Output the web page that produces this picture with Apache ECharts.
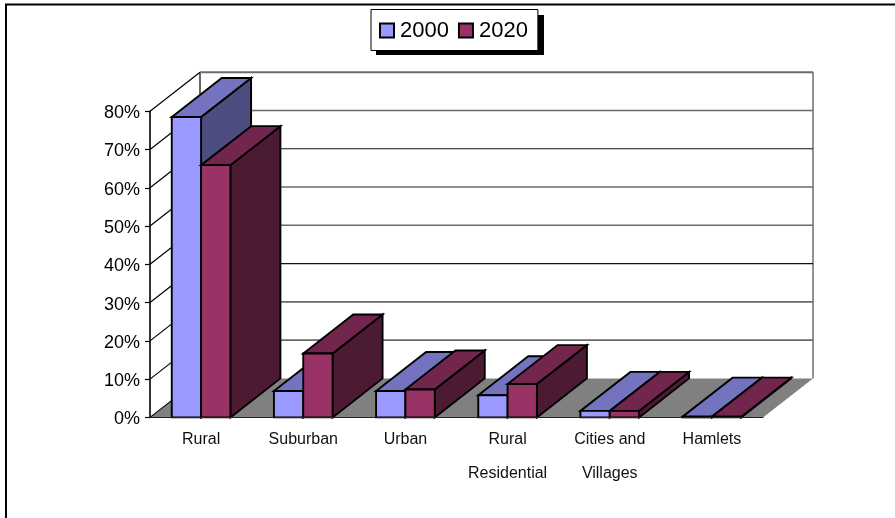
<!DOCTYPE html>
<html>
<head>
<meta charset="utf-8">
<style>html,body{margin:0;padding:0;background:#fff}#chart{width:895px;height:518px}</style>
<script src="https://cdn.jsdelivr.net/npm/echarts@6/dist/echarts.min.js"></script>
</head>
<body>
<div id="chart"></div>
<script>
// Share of land use by category, 2000 against 2020 (percent)
const categories = ['Rural', 'Suburban', 'Urban', 'Rural\nResidential', 'Cities and\nVillages', 'Hamlets'];
const values2000 = [78.5, 6.9, 6.9, 5.8, 1.7, 0.2];
const values2020 = [65.9, 16.7, 7.3, 8.7, 1.7, 0.2];
const yTicks = [0, 10, 20, 30, 40, 50, 60, 70, 80];
// Back wall rules that print solid black; the rest print a softer grey
const solidRules = [30, 60];

// Oblique projection of the depth axis, in pixels
const DEPTH_X = 50;
const DEPTH_Y = -39;
const BAR_SHARE = 0.287;
const FONT = '"Liberation Sans", Arial, sans-serif';

const back = p => [p[0] + DEPTH_X, p[1] + DEPTH_Y];
const poly = (points, fill, stroke, lineWidth) => ({
  type: 'polygon',
  shape: { points },
  style: { fill, stroke: stroke || null, lineWidth: lineWidth || 0, lineJoin: 'miter' }
});
const line = (a, b, stroke, lineWidth) => ({
  type: 'line',
  shape: { x1: a[0], y1: a[1], x2: b[0], y2: b[1] },
  style: { stroke, lineWidth }
});

// Floor, side wall and back wall rules, one group per axis tick
function renderWall(params, api) {
  const v = api.value(0);
  const first = api.coord([0, v]);
  const band = api.size([1, 0])[0];
  const left = [first[0] - band / 2, first[1]];
  const right = [left[0] + band * categories.length, left[1]];
  const children = [];
  if (v === 0) {
    children.push(poly([left, right, back(right), back(left)], '#808080'));
    const top = api.coord([0, yTicks[yTicks.length - 1]]);
    const topLeft = [left[0], top[1]];
    const topRight = [right[0], top[1]];
    children.push(line(back(left), back(topLeft), '#000', 1.2));
    children.push(line(back(right), back(topRight), '#777', 1.6));
  }
  children.push(line(left, back(left), '#000', 1.2));
  if (v !== 0) {
    const solid = solidRules.includes(v);
    children.push(line(back(left), back(right), solid ? '#111' : '#6a6a6a', solid ? 1.2 : (v === 80 ? 2 : 1.6)));
  }
  return { type: 'group', children };
}

// One oblique box: front, top and right faces
function boxRenderer(side, front, top, dark) {
  return function (params, api) {
    const i = api.value(0);
    const base = api.coord([i, 0]);
    const peak = api.coord([i, api.value(1)]);
    const w = api.size([1, 0])[0] * BAR_SHARE;
    const x0 = side < 0 ? base[0] - w : base[0];
    const x1 = x0 + w;
    const fl = [x0, base[1]], fr = [x1, base[1]], tl = [x0, peak[1]], tr = [x1, peak[1]];
    return {
      type: 'group',
      children: [
        poly([fr, back(fr), back(tr), tr], dark, '#000', 1.9),
        poly([tl, tr, back(tr), back(tl)], top, '#000', 1.9),
        poly([fl, fr, tr, tl], front, '#000', 1.9)
      ]
    };
  };
}

const chart = echarts.init(document.getElementById('chart'), null, { renderer: 'canvas' });
chart.setOption({
  animation: false,
  backgroundColor: '#fff',
  textStyle: { fontFamily: FONT },
  grid: { left: 150, top: 111.2, width: 613, height: 306.2 },
  legend: {
    data: ['2000', '2020'],
    left: 371,
    top: 9.5,
    padding: [10, 10, 9, 8],
    itemGap: 9,
    itemWidth: 14,
    itemHeight: 14,
    icon: 'rect',
    selectedMode: false,
    backgroundColor: '#fff',
    borderColor: '#000',
    borderWidth: 1,
    z: 6,
    textStyle: { fontFamily: FONT, fontSize: 22, color: '#000', padding: [0, 0, 0, 1] }
  },
  xAxis: {
    type: 'category',
    data: categories,
    axisLine: { lineStyle: { color: '#222', width: 1.2 } },
    axisTick: { show: false },
    axisLabel: { interval: 0, color: '#111', fontFamily: FONT, fontSize: 16, lineHeight: 34, margin: 5 },
    z: 20
  },
  yAxis: {
    type: 'value',
    min: 0,
    max: 80,
    interval: 10,
    axisLine: { show: true, lineStyle: { color: '#000', width: 1.6 } },
    axisTick: { show: true, length: 5, lineStyle: { color: '#000', width: 1.2 } },
    splitLine: { show: false },
    axisLabel: {
      formatter: '{pct|{value}%}',
      margin: 10,
      rich: { pct: { color: '#000', fontFamily: FONT, fontSize: 18, padding: [4, 0, 0, 0] } }
    }
  },
  series: [
    {
      type: 'custom',
      name: 'walls',
      silent: true,
      clip: false,
      z: 1,
      encode: { x: 1, y: 0 },
      data: yTicks.map(v => [v, 0]),
      renderItem: renderWall
    },
    {
      type: 'custom',
      name: '2000',
      clip: false,
      z: 2,
      itemStyle: { color: '#9999FF', borderColor: '#000', borderWidth: 2 },
      encode: { x: 0, y: 1 },
      data: values2000.map((v, i) => [i, v]),
      renderItem: boxRenderer(-1, '#9999FF', '#7373BF', '#4D4D80')
    },
    {
      type: 'custom',
      name: '2020',
      clip: false,
      z: 3,
      itemStyle: { color: '#993366', borderColor: '#000', borderWidth: 2 },
      encode: { x: 0, y: 1 },
      data: values2020.map((v, i) => [i, v]),
      renderItem: boxRenderer(1, '#993366', '#73264D', '#4D1A33')
    }
  ],
  graphic: [
    {
      type: 'polyline',
      silent: true,
      shape: { points: [[6, 518], [6, 4.5], [895, 4.5]] },
      style: { stroke: '#000', lineWidth: 2, fill: null }
    },
    {
      // Drop shadow under the legend box
      type: 'rect',
      silent: true,
      z: 5,
      shape: { x: 376, y: 15, width: 168, height: 40 },
      style: { fill: '#000' }
    }
  ]
});
</script>
</body>
</html>
